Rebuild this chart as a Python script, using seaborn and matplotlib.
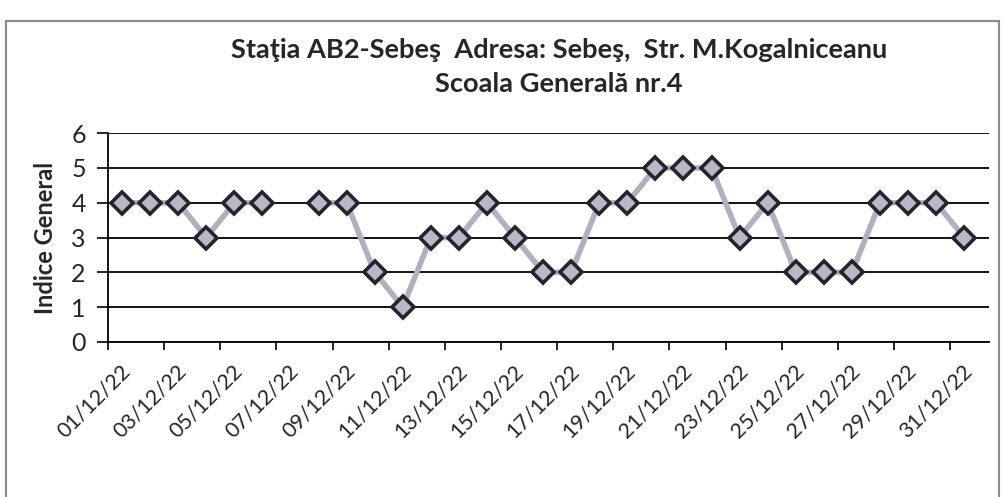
import numpy as np
import pandas as pd
import matplotlib
matplotlib.use("Agg")
import matplotlib.pyplot as plt
import matplotlib.transforms as mtransforms
from matplotlib.patches import Rectangle
import seaborn as sns

# daily values, December 2022 (07/12 has no reading)
days = list(range(1, 32))
indice = [4, 4, 4, 3, 4, 4, np.nan, 4, 4, 2, 1, 3, 3, 4, 3, 2,
          2, 4, 4, 5, 5, 5, 3, 4, 2, 2, 2, 4, 4, 4, 3]
date_labels = [f"{d:02d}/12/22" for d in days]

title = "Staţia AB2-Sebeş  Adresa: Sebeş,  Str. M.Kogalniceanu\nScoala Generală nr.4"

df = pd.DataFrame({"day": days, "indice": indice})
df["pos"] = df["day"] - 1
# split around the missing day so the line breaks there
df["seg"] = df["indice"].isna().cumsum()
df = df.dropna()

sns.set_style("white")
plt.rcParams["font.family"] = ["Lato", "DejaVu Sans"]

fig = plt.figure(figsize=(10.05, 4.97), dpi=100)
ax = fig.add_axes([0.1075, 0.312, 0.877, 0.42])

sns.lineplot(data=df, x="pos", y="indice", units="seg", estimator=None,
             color="#b0b0c0", linewidth=4, marker="D", markersize=11.5,
             markerfacecolor="#b8b8c6", markeredgecolor="#24242c",
             markeredgewidth=2.6, ax=ax)

ax.set_xlim(-0.5, 30.9)
ax.set_ylim(0, 6)
ax.set_yticks(range(0, 7))
ax.grid(axis="y", color="black", linewidth=1.3)
ax.grid(axis="x", visible=False)
for s in ["top", "right"]:
    ax.spines[s].set_visible(False)
for s in ["left", "bottom"]:
    ax.spines[s].set_color("black")
    ax.spines[s].set_linewidth(1.3)

# tick marks between the days, labels on every second day
ax.set_xticks([p - 0.5 for p in range(0, 31, 2)], minor=True)
ax.set_xticks(range(0, 31, 2))
ax.set_xticklabels(date_labels[::2], rotation=45, ha="right",
                   rotation_mode="anchor", fontsize=15.5)
ax.tick_params(axis="x", which="major", length=0, pad=14)
ax.tick_params(axis="x", which="minor", length=6, width=1.2, color="black",
               direction="out", bottom=True)
ax.tick_params(axis="y", length=8, width=1.2, color="black", left=True,
               labelsize=18, pad=8)
offset = mtransforms.ScaledTranslation(-0.02, 0, fig.dpi_scale_trans)
for lab in ax.get_xticklabels():
    lab.set_transform(lab.get_transform() + offset)

ax.set_xlabel("")
ax.set_ylabel("Indice General", fontsize=17, fontweight="bold", labelpad=10)

fig.text(0.556, 0.865, title, ha="center", va="center", fontsize=19.6,
         fontweight="bold", linespacing=1.5)

fig.patches.append(Rectangle((0.006, -0.01), 0.988, 0.968,
                             transform=fig.transFigure, fill=False,
                             edgecolor="#8a8a8a", linewidth=1.5))

fig.savefig("out.png", dpi=100)
